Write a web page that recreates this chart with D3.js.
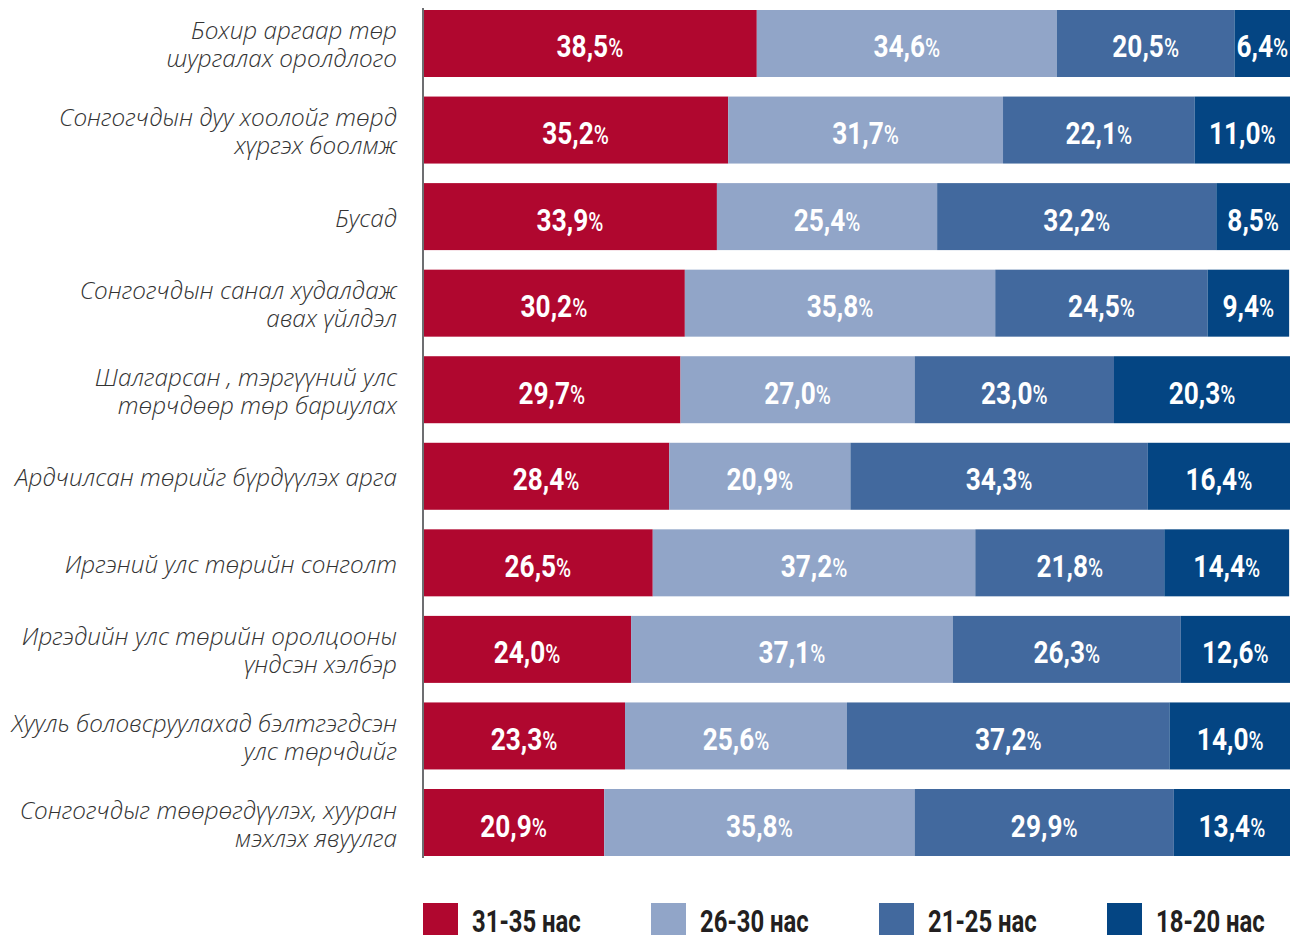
<!DOCTYPE html>
<html>
<head>
<meta charset="utf-8">
<script src="https://cdn.jsdelivr.net/npm/d3@7"></script>
<style>
  body { margin: 0; background: #fff; }
  svg { display: block; }
</style>
</head>
<body>
<div id="chart"></div>
<script>
// categories (top to bottom), each label split into lines
var categories = [
    ["Бохир аргаар төр", "шургалах оролдлого"],
    ["Сонгогчдын дуу хоолойг төрд", "хүргэх боолмж"],
    ["Бусад"],
    ["Сонгогчдын санал худалдаж", "авах үйлдэл"],
    ["Шалгарсан , тэргүүний улс", "төрчдөөр төр бариулах"],
    ["Ардчилсан төрийг бүрдүүлэх арга"],
    ["Иргэний улс төрийн сонголт"],
    ["Иргэдийн улс төрийн оролцооны", "үндсэн хэлбэр"],
    ["Хууль боловсруулахад бэлтгэгдсэн", "улс төрчдийг"],
    ["Сонгогчдыг төөрөгдүүлэх, хууран", "мэхлэх явуулга"]
];

var series_names = ["31-35 нас", "26-30 нас", "21-25 нас", "18-20 нас"];

var s31_35 = [38.5, 35.2, 33.9, 30.2, 29.7, 28.4, 26.5, 24.0, 23.3, 20.9];
var s26_30 = [34.6, 31.7, 25.4, 35.8, 27.0, 20.9, 37.2, 37.1, 25.6, 35.8];
var s21_25 = [20.5, 22.1, 32.2, 24.5, 23.0, 34.3, 21.8, 26.3, 37.2, 29.9];
var s18_20 = [6.4, 11.0, 8.5, 9.4, 20.3, 16.4, 14.4, 12.6, 14.0, 13.4];

var colors = ["#b0072f", "#91a5c8", "#42699e", "#044583"];

// bold condensed look: Roboto squeezed horizontally
var valueFont = "Roboto, 'DejaVu Sans', sans-serif";
var squeeze = 0.82;
var legendSqueeze = 0.77;
var labelFont = "'Open Sans', 'Noto Sans', sans-serif";

// build rows for the stack
var keys = ["a", "b", "c", "d"];
var rows = categories.map(function(c, i) {
    return {cat: i, a: s31_35[i], b: s26_30[i], c: s21_25[i], d: s18_20[i]};
});
var stacked = d3.stack().keys(keys)(rows);

var width = 1290, height = 935;

var svg = d3.select("#chart").append("svg")
    .attr("width", width)
    .attr("height", height);

var x = d3.scaleLinear().domain([0, 100]).range([423, 1290]);
var y = d3.scaleBand()
    .domain(d3.range(categories.length))
    .range([10, 856])
    .paddingInner(0.226)
    .paddingOuter(0);

// bars
var layers = svg.append("g").selectAll("g")
    .data(stacked)
    .enter().append("g")
    .attr("fill", function(d, i) { return colors[i]; });

layers.selectAll("rect")
    .data(function(d) { return d; })
    .enter().append("rect")
    .attr("x", function(d) { return x(d[0]); })
    .attr("y", function(d) { return y(d.data.cat); })
    .attr("width", function(d) { return x(d[1]) - x(d[0]); })
    .attr("height", y.bandwidth());

// value labels
var lbl = layers.selectAll("text")
    .data(function(d) { return d; })
    .enter().append("text")
    .attr("transform", function(d) {
        var cx = (x(d[0]) + x(d[1])) / 2;
        var cy = y(d.data.cat) + y.bandwidth() / 2 + 14;
        return "translate(" + cx + "," + cy + ") scale(" + squeeze + ",1)";
    })
    .attr("text-anchor", "middle")
    .attr("fill", "#fff")
    .style("font-family", valueFont)
    .style("font-weight", "bold")
    .style("font-size", "32px");

lbl.append("tspan")
    .text(function(d) { return (d[1] - d[0]).toFixed(1).replace(".", ","); });
lbl.append("tspan")
    .style("font-size", "25px")
    .style("font-weight", "500")
    .text("%");

// left axis with wrapped category labels
var yAxis = d3.axisLeft(y).tickSize(0).tickPadding(26).tickFormat("");
var ax = svg.append("g")
    .attr("transform", "translate(423,0)")
    .call(yAxis);
ax.select(".domain")
    .attr("stroke", "#6d6e71")
    .attr("stroke-width", 2)
    .attr("d", "M0,8V858");

ax.selectAll(".tick text").remove();
ax.selectAll(".tick").append("text")
    .attr("x", -26)
    .attr("text-anchor", "end")
    .attr("fill", "#333")
    .style("font-family", labelFont)
    .style("font-style", "italic")
    .style("font-weight", 300)
    .style("font-size", "24.3px")
    .each(function(i) {
        var lines = categories[i];
        var t = d3.select(this);
        var lh = 28;
        var start = -(lines.length - 1) * lh / 2 + 10;
        lines.forEach(function(line, k) {
            t.append("tspan")
                .attr("x", -26)
                .attr("y", start + k * lh)
                .text(line);
        });
    });

// legend
var legend = svg.append("g").selectAll("g")
    .data(series_names)
    .enter().append("g")
    .attr("transform", function(d, i) { return "translate(" + (423 + i * 228) + ",903)"; });

legend.append("rect")
    .attr("width", 35)
    .attr("height", 36)
    .attr("fill", function(d, i) { return colors[i]; });

legend.append("text")
    .attr("transform", "translate(49,29) scale(" + legendSqueeze + ",1)")
    .attr("fill", "#231f20")
    .style("font-family", valueFont)
    .style("font-weight", "bold")
    .style("font-size", "31px")
    .text(function(d) { return d; });
</script>
</body>
</html>
